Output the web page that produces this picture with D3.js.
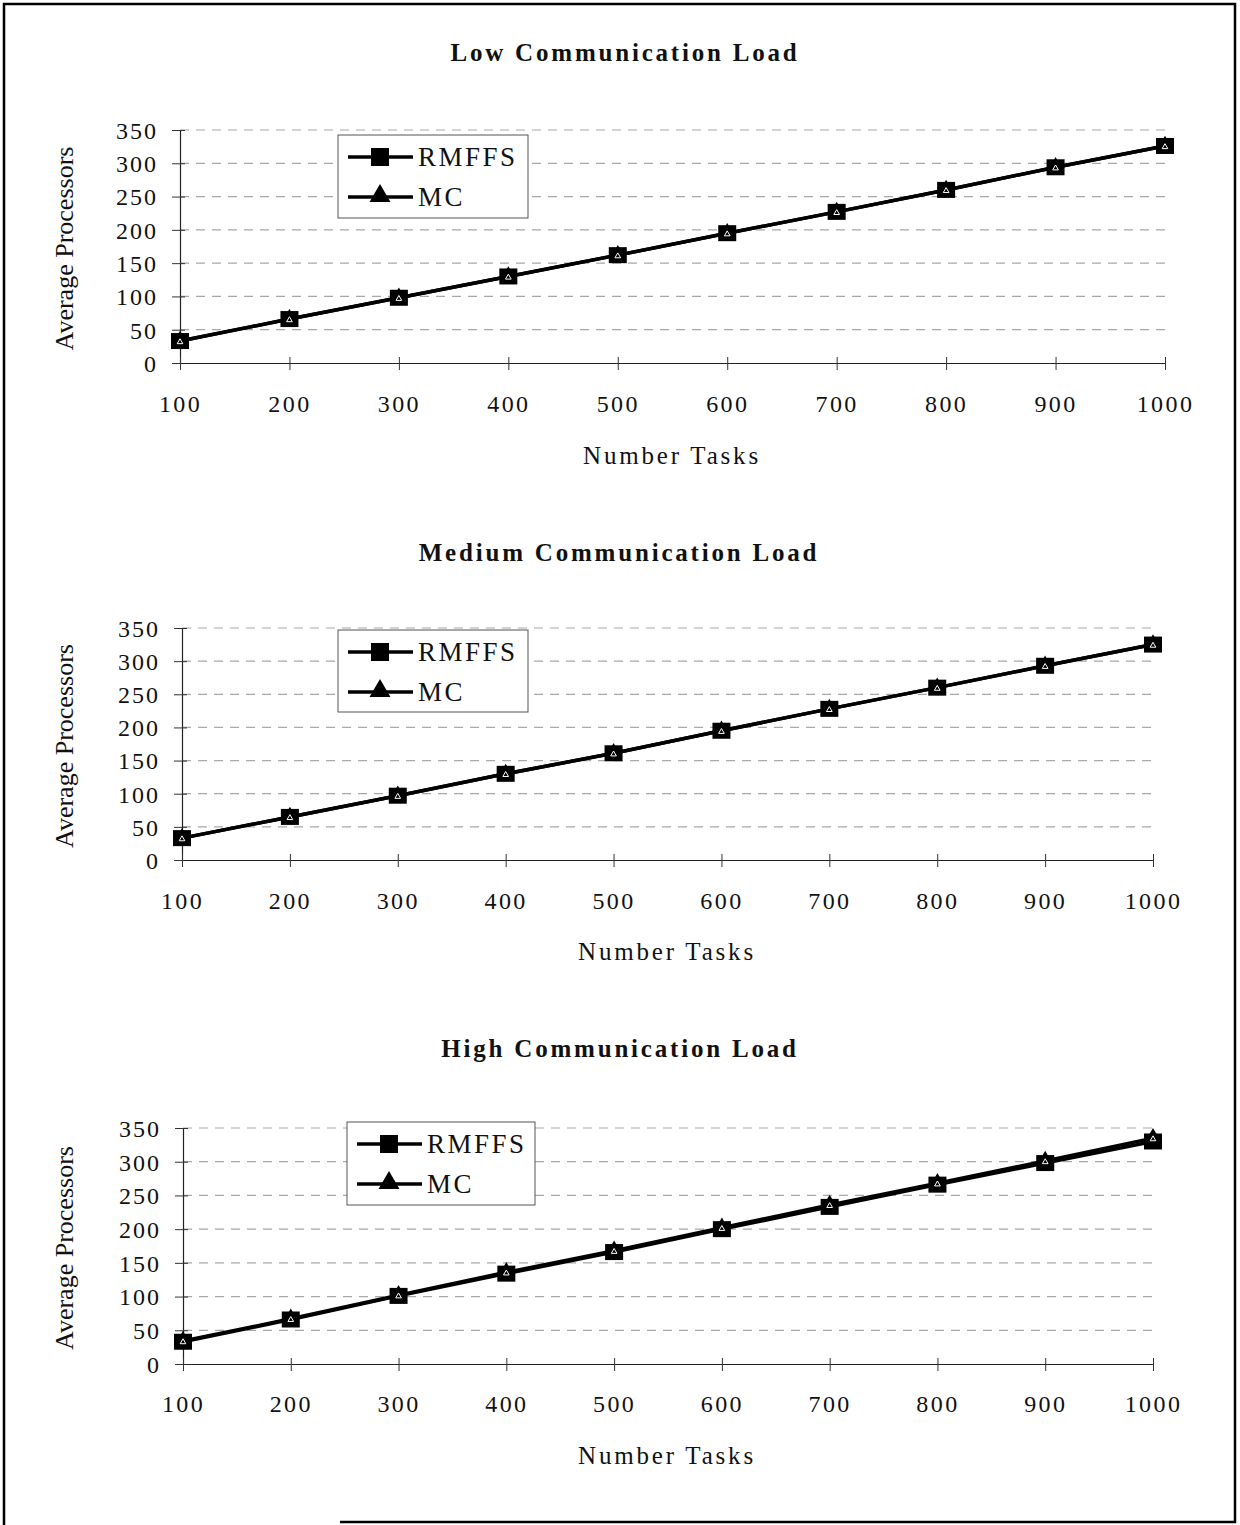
<!DOCTYPE html>
<html>
<head>
<meta charset="utf-8">
<script src="https://cdn.jsdelivr.net/npm/d3@7"></script>
<style>
  body { margin: 0; background: #fff; }
  svg { display: block; }
  text { font-family: "Liberation Serif", "Times New Roman", serif; fill: #111; }
</style>
</head>
<body>
<svg id="chart" width="1240" height="1525"></svg>
<script>
// data
const tasks = [100, 200, 300, 400, 500, 600, 700, 800, 900, 1000];
const yTicks = [0, 50, 100, 150, 200, 250, 300, 350];

const lowRmffs = [33, 66, 98, 130, 162, 195, 227, 260, 294, 326];
const lowMc = [33, 66, 98, 130, 162, 195, 227, 260, 294, 326];
const medRmffs = [33, 65, 97, 130, 161, 195, 228, 260, 293, 325];
const medMc = [33, 65, 97, 130, 161, 195, 228, 260, 293, 325];
const highRmffs = [33, 66, 101, 134, 166, 200, 233, 266, 298, 330];
const highMc = [34, 67, 102, 136, 168, 202, 236, 268, 301, 335];

const panels = [
  { title: "Low Communication Load", rmffs: lowRmffs, mc: lowMc,
    titleX: 625, titleY: 61, x0: 180, x1: 1165, y0: 363, y1: 130,
    labelY: 412, nameX: 672, nameY: 464, legend: { x: 338, y: 135, w: 190, h: 83 } },
  { title: "Medium Communication Load", rmffs: medRmffs, mc: medMc,
    titleX: 619, titleY: 561, x0: 182, x1: 1153, y0: 860, y1: 628,
    labelY: 909, nameX: 667, nameY: 960, legend: { x: 338, y: 630, w: 190, h: 82 } },
  { title: "High Communication Load", rmffs: highRmffs, mc: highMc,
    titleX: 620, titleY: 1057, x0: 183, x1: 1153, y0: 1364, y1: 1128,
    labelY: 1412, nameX: 667, nameY: 1464, legend: { x: 347, y: 1122, w: 188, h: 83 } }
];

const svg = d3.select("#chart");

// outer frame
svg.append("path")
  .attr("d", "M4,1525 V4 H1235 V1522 H340")
  .attr("fill", "none")
  .attr("stroke", "#000")
  .attr("stroke-width", 2.5);

const tri = d3.symbol().type(d3.symbolTriangle);

function drawPanel(p) {
  const x = d3.scalePoint().domain(tasks).range([p.x0, p.x1]);
  const y = d3.scaleLinear().domain([0, 350]).range([p.y0, p.y1]);
  const g = svg.append("g");

  // gridlines
  g.selectAll(".grid")
    .data(yTicks.slice(1))
    .enter()
    .append("line")
    .attr("x1", p.x0)
    .attr("x2", p.x1)
    .attr("y1", (d) => y(d))
    .attr("y2", (d) => y(d))
    .attr("stroke", "#a8a8a8")
    .attr("stroke-width", 1.2)
    .attr("stroke-dasharray", "9,7");

  const yAxis = d3.axisLeft(y).tickValues(yTicks).tickSize(0).tickPadding(22);
  const yg = g.append("g").attr("transform", `translate(${p.x0},0)`).call(yAxis);
  yg.select(".domain").attr("stroke", "#222").attr("stroke-width", 1.2);
  yg.selectAll("text")
    .style("font-size", "24px")
    .style("letter-spacing", "2px")
    .attr("dy", "0.35em");
  yg.selectAll(".tick")
    .append("line")
    .attr("x1", -8)
    .attr("x2", 5)
    .attr("stroke", "#333");

  const xAxis = d3.axisBottom(x).tickSize(0).tickFormat(d3.format("d"));
  const xg = g.append("g").attr("transform", `translate(0,${p.y0})`).call(xAxis);
  xg.select(".domain").attr("stroke", "#222").attr("stroke-width", 1.2);
  xg.selectAll("text")
    .attr("y", p.labelY - p.y0)
    .attr("dy", 0)
    .style("font-size", "24px")
    .style("letter-spacing", "2.4px");
  xg.selectAll(".tick")
    .append("line")
    .attr("y1", -6)
    .attr("y2", 7)
    .attr("stroke", "#333");

  // series lines
  const line = d3.line().x((d, i) => x(tasks[i])).y((d) => y(d));
  [p.mc, p.rmffs].forEach((s) => {
    g.append("path")
      .datum(s)
      .attr("d", line)
      .attr("fill", "none")
      .attr("stroke", "#000")
      .attr("stroke-width", 3.5);
  });

  g.selectAll(".sq")
    .data(p.rmffs)
    .enter()
    .append("rect")
    .attr("x", (d, i) => x(tasks[i]) - 9)
    .attr("y", (d) => y(d) - 8)
    .attr("width", 18)
    .attr("height", 16)
    .attr("fill", "#000");
  g.selectAll(".tri")
    .data(p.mc)
    .enter()
    .append("path")
    .attr("d", tri.size(110))
    .attr("transform", (d, i) => `translate(${x(tasks[i])},${y(d) - 1})`)
    .attr("fill", "#000");
  g.selectAll(".tri-in")
    .data(p.mc)
    .enter()
    .append("path")
    .attr("d", tri.size(14))
    .attr("transform", (d, i) => `translate(${x(tasks[i])},${y(d) + 1})`)
    .attr("fill", "none")
    .attr("stroke", "#fff")
    .attr("stroke-width", 1);

  // title and axis names
  svg.append("text")
    .attr("x", p.titleX)
    .attr("y", p.titleY)
    .attr("text-anchor", "middle")
    .style("font-size", "25px")
    .style("font-weight", "bold")
    .style("letter-spacing", "2.8px")
    .text(p.title);

  svg.append("text")
    .attr("x", p.nameX)
    .attr("y", p.nameY)
    .attr("text-anchor", "middle")
    .style("font-size", "25px")
    .style("letter-spacing", "2.8px")
    .text("Number Tasks");

  svg.append("text")
    .attr("transform", `translate(73,${(p.y0 + p.y1) / 2 + 2}) rotate(-90)`)
    .attr("text-anchor", "middle")
    .style("font-size", "26px")
    .text("Average Processors");

  // legend
  const L = p.legend;
  const lg = svg.append("g").attr("transform", `translate(${L.x},${L.y})`);
  lg.append("rect")
    .attr("width", L.w)
    .attr("height", L.h)
    .attr("fill", "#fff")
    .attr("stroke", "#555")
    .attr("stroke-width", 1);
  const rows = [
    { name: "RMFFS", dy: 22 },
    { name: "MC", dy: 62 }
  ];
  rows.forEach((r, i) => {
    lg.append("line")
      .attr("x1", 10)
      .attr("x2", 75)
      .attr("y1", r.dy)
      .attr("y2", r.dy)
      .attr("stroke", "#000")
      .attr("stroke-width", 3.5);
    if (i === 0) {
      lg.append("rect")
        .attr("x", 33)
        .attr("y", r.dy - 9)
        .attr("width", 18)
        .attr("height", 18)
        .attr("fill", "#000");
    } else {
      lg.append("path")
        .attr("d", tri.size(190))
        .attr("transform", `translate(42,${r.dy - 1})`)
        .attr("fill", "#000");
    }
    lg.append("text")
      .attr("x", 80)
      .attr("y", r.dy + 9)
      .style("font-size", "27px")
      .style("letter-spacing", "2.5px")
      .text(r.name);
  });
}

panels.forEach(drawPanel);
</script>
</body>
</html>
